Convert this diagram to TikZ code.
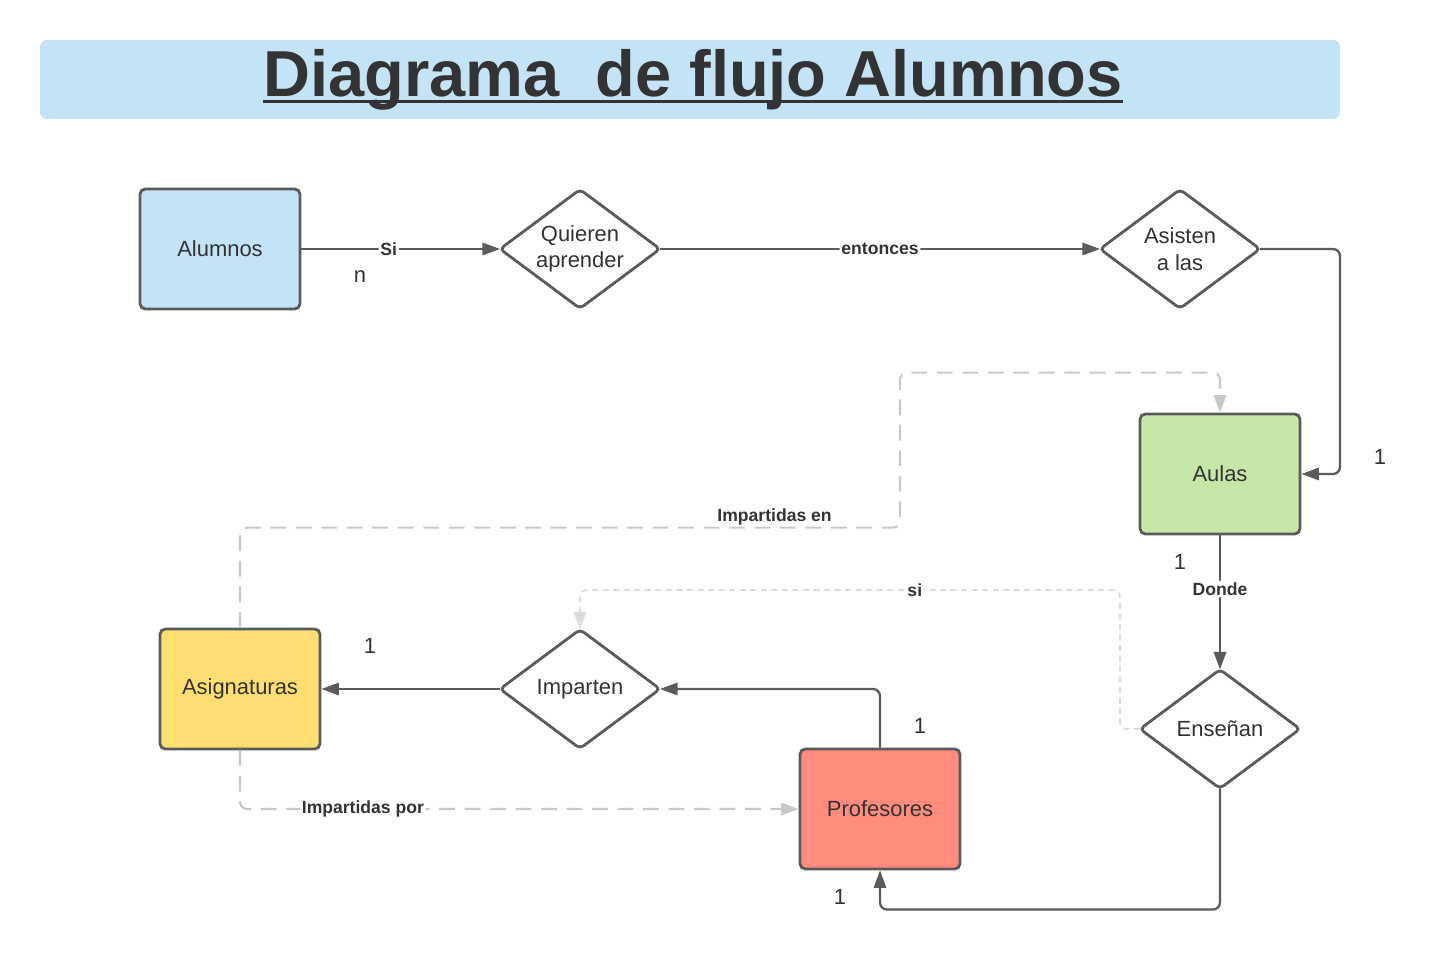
\documentclass[tikz,border=0pt]{standalone}
\usepackage{fontspec}
\setmainfont{Liberation Sans}
\usepackage{tikz}
\usetikzlibrary{shapes.geometric, arrows.meta}
\definecolor{EdgeGray}{HTML}{5B5B5B}
\definecolor{TextGray}{HTML}{333333}
\definecolor{DashGray}{HTML}{C8C8C8}
\definecolor{HintGray}{HTML}{DCDCDC}
\definecolor{SkyBlue}{HTML}{C3E4F6}
\definecolor{LeafGreen}{HTML}{C6E7A8}
\definecolor{SunYellow}{HTML}{FFDF71}
\definecolor{CoralRed}{HTML}{FF8C7C}

\begin{document}
\begin{tikzpicture}[x=0.02cm, y=-0.02cm, >={Triangle[length=10pt,width=7pt]}]
  \tikzset{
    entity/.style={rectangle, rounded corners=3pt, draw=EdgeGray, line width=1.6pt, minimum width=3.2cm, minimum height=2.4cm, font=\fontsize{12.5}{14}\selectfont, text=TextGray},
    relation/.style={diamond, rounded corners=2.5pt, draw=EdgeGray, fill=white, line width=1.6pt, minimum width=3.2cm, minimum height=2.38cm, inner sep=0pt, outer sep=0pt, aspect=1.345, align=center, font=\fontsize{12.5}{15}\selectfont, text=TextGray},
    flow/.style={->, line width=1.3pt, draw=EdgeGray, rounded corners=4pt},
    link/.style={->, line width=1.2pt, draw=DashGray, dash pattern=on 9pt off 5.5pt, rounded corners=4pt},
    hint/.style={->, line width=1pt, draw=HintGray, dash pattern=on 3.5pt off 2.5pt, rounded corners=4pt},
    lbl/.style={fill=white, inner sep=1pt, font=\bfseries\fontsize{10}{11}\selectfont, text=TextGray},
    card/.style={font=\fontsize{12.5}{14}\selectfont, text=TextGray}
  }
  \useasboundingbox (0,0) rectangle (1440,969);

  % title bar
  \fill[SkyBlue, rounded corners=4pt] (40,40) rectangle (1340,119);
  \node[inner sep=0pt, text=TextGray, font=\bfseries\fontsize{37}{40}\selectfont] (title) at (693,80) {Diagrama\ \ de flujo Alumnos};
  \draw[TextGray, line width=1.7pt] ([yshift=-2.5pt]title.base west) -- ([yshift=-2.5pt]title.base east);

  % entities and relations
  \node[entity, fill=SkyBlue] (alumnos) at (220,249) {Alumnos};
  \node[relation] (quieren) at (580,249) {Quieren\\aprender};
  \node[relation] (asisten) at (1180,249) {Asisten\\a las};
  \node[entity, fill=LeafGreen] (aulas) at (1220,474) {Aulas};
  \node[relation] (ensenan) at (1220,729) {Enseñan};
  \node[entity, fill=SunYellow] (asignaturas) at (240,689) {Asignaturas};
  \node[relation] (imparten) at (580,689) {Imparten};
  \node[entity, fill=CoralRed] (profesores) at (880,809) {Profesores};

  % cardinalities
  \node[card] (cardN) at (360,277) {n};
  \node[card] (cardAulasA) at (1380,457) {1};
  \node[card] (cardAulasB) at (1180,562) {1};
  \node[card] (cardProfA) at (920,726) {1};
  \node[card] (cardProfB) at (840,897) {1};
  \node[card] (cardAsig) at (370,646) {1};

  % solid connectors
  \draw[flow] (alumnos) -- node[lbl, pos=0.44]{Si} (quieren);
  \draw[flow] (quieren) -- node[lbl]{entonces} (asisten);
  \draw[flow] (asisten.east) -- ++(80,0) |- (aulas.east);
  \draw[flow] (aulas) -- node[lbl, pos=0.4]{Donde} (ensenan);
  \draw[flow] (ensenan.south) -- ++(0,121) -| (profesores.south);
  \draw[flow] (profesores.north) |- (imparten.east);
  \draw[flow] (imparten) -- (asignaturas);

  % dashed connectors
  \draw[link] (asignaturas.north) -- ++(0,-100) -- node[lbl, fill=none, above, pos=0.81]{Impartidas en} ++(660,0) -- ++(0,-155) -| (aulas.north);
  \draw[link] (asignaturas.south) |- node[lbl, pos=0.61]{Impartidas por} (profesores.west);
  \draw[hint] (ensenan.west) -- ++(-20,0) -- ++(0,-139) -| node[lbl, pos=0.19]{si} (imparten.north);
\end{tikzpicture}
\end{document}
